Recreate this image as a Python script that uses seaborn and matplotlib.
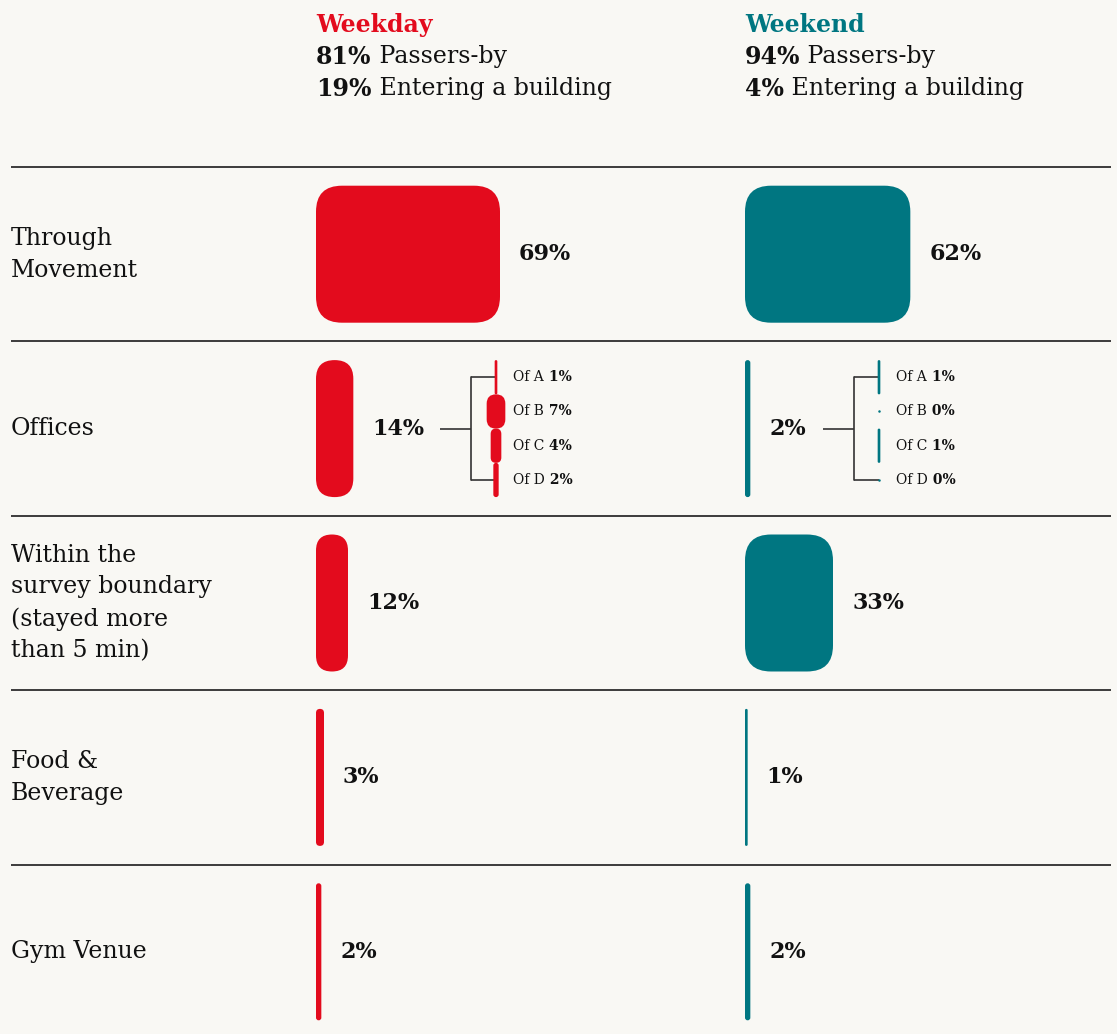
import matplotlib
matplotlib.use("Agg")
import matplotlib.pyplot as plt
from matplotlib.patches import FancyBboxPatch
import pandas as pd
import seaborn as sns

# ---------------- data ----------------
categories = ["Through Movement", "Offices",
              "Within the survey boundary (stayed more than 5 min)",
              "Food & Beverage", "Gym Venue"]
category_lines = [["Through", "Movement"], ["Offices"],
                  ["Within the", "survey boundary", "(stayed more", "than 5 min)"],
                  ["Food &", "Beverage"], ["Gym Venue"]]
periods = ["Weekday", "Weekend"]
weekday_pct = [69, 14, 12, 3, 2]
weekend_pct = [62, 2, 33, 1, 2]
office_parts = ["A", "B", "C", "D"]
weekday_office_pct = [1, 7, 4, 2]
weekend_office_pct = [1, 0, 1, 0]
split_labels = ["Passers-by", "Entering a building"]
weekday_split = [81, 19]
weekend_split = [94, 4]

# ---------------- style ----------------
BG = "#f9f8f4"
INK = "#111111"
RED = "#e30b1d"
TEAL = "#007681"
RULE = "#1c1c1c"
BRACKET = "#333333"
COLORS = [RED, TEAL]

sns.set_theme(style="white", rc={"figure.facecolor": BG, "axes.facecolor": BG})
plt.rcParams["font.family"] = ["DejaVu Serif"]

W, H, DPI = 1117, 1034, 100
ROW_TOP = 167.0
ROW_H = 174.4
PX_PER_PCT = 184 / 69
BAR_FRAC = 137 / ROW_H
RADIUS_PX = 26
COL_LEFT = [316, 745]
COL_WIDTH = [420, 370]
SUB_CENTER_PX = [180, 134]
LABEL_GAP_PX = 19

FS_TEXT = 17
FS_VALUE = 16
FS_SMALL = 10

fig = plt.figure(figsize=(W / DPI, H / DPI), dpi=DPI, facecolor=BG)

# background axes in pixel units for headings, row names and rules
bg = fig.add_axes([0, 0, 1, 1])
bg.set_xlim(0, W)
bg.set_ylim(H, 0)
bg.axis("off")


def mixed_text(ax, x, y, first, second, size, first_bold, color=INK, **kw):
    t = ax.text(x, y, first, fontsize=size, color=color, va="center", ha="left",
                fontweight="bold" if first_bold else "normal", **kw)
    ax.annotate(" " + second, xy=(1, 0.5), xycoords=t, va="center", ha="left",
                fontsize=size, color=color,
                fontweight="normal" if first_bold else "bold")
    return t


# headings
splits = [weekday_split, weekend_split]
for c, name in enumerate(periods):
    x = COL_LEFT[c]
    bg.text(x, 25, name, fontsize=FS_TEXT, fontweight="bold", color=COLORS[c],
            va="center", ha="left")
    for k, lab in enumerate(split_labels):
        mixed_text(bg, x, 57 + 32 * k, f"{splits[c][k]}%", lab, FS_TEXT, True)

# row rules and row names
rule_y = [ROW_TOP + i * ROW_H for i in range(len(categories))]
bg.hlines(rule_y, 11, 1111, color=RULE, lw=1.2)
for i, lines in enumerate(category_lines):
    yc = ROW_TOP + (i + 0.5) * ROW_H
    n = len(lines)
    for j, line in enumerate(lines):
        bg.text(11, yc + (j - (n - 1) / 2) * 32, line, fontsize=FS_TEXT,
                color=INK, va="center", ha="left")


def round_patch(x, y, w, h, color, zorder=3):
    """Rounded rectangle in data units of a column axes."""
    w_px, h_px = w * PX_PER_PCT, h * ROW_H
    r_px = max(min(RADIUS_PX, w_px / 2, h_px / 2), 0)
    return FancyBboxPatch((x, y), w, h,
                          boxstyle=f"round,pad=0,rounding_size={r_px / PX_PER_PCT}",
                          mutation_aspect=PX_PER_PCT / ROW_H,
                          fc=color, ec="none", zorder=zorder)


values = [weekday_pct, weekend_pct]
office_values = [weekday_office_pct, weekend_office_pct]
n_rows = len(categories)
axes_bottom = H - (ROW_TOP + n_rows * ROW_H)

for c in range(2):
    ax = fig.add_axes([COL_LEFT[c] / W, axes_bottom / H,
                       COL_WIDTH[c] / W, n_rows * ROW_H / H])
    ax.patch.set_alpha(0)
    df = pd.DataFrame({"category": categories, "pct": values[c]})
    sns.barplot(data=df, x="pct", y="category", orient="h", color=COLORS[c],
                saturation=1, width=BAR_FRAC, errorbar=None, ax=ax)
    ax.set_xlim(0, COL_WIDTH[c] / PX_PER_PCT)
    ax.set_ylim(n_rows - 0.5, -0.5)
    ax.axis("off")

    # swap the plain bars for rounded ones of the same extent
    for p in list(ax.patches):
        x, y, w, h = p.get_x(), p.get_y(), p.get_width(), p.get_height()
        fc = p.get_facecolor()
        p.remove()
        ax.add_patch(round_patch(x, y, w, h, fc))

    # value labels
    for i, v in enumerate(values[c]):
        ax.text(v + LABEL_GAP_PX / PX_PER_PCT, i, f"{v}%", fontsize=FS_VALUE,
                fontweight="bold", color=INK, va="center", ha="left")

    # office breakdown
    row = categories.index("Offices")
    xc = SUB_CENTER_PX[c] / PX_PER_PCT
    seg_h = BAR_FRAC / 4
    top = row - BAR_FRAC / 2
    centers = [top + (j + 0.5) * seg_h for j in range(len(office_parts))]
    for j, v in enumerate(office_values[c]):
        if v > 0:
            ax.add_patch(round_patch(xc - v / 2, top + j * seg_h, v, seg_h, COLORS[c]))
        else:
            ax.plot([xc], [centers[j]], marker="o", ms=1.8, color=COLORS[c],
                    mec="none", zorder=3)
        mixed_text(ax, xc + 17 / PX_PER_PCT, centers[j], f"Of {office_parts[j]}",
                   f"{v}%", FS_SMALL, False)
    x_vert = xc - 25 / PX_PER_PCT
    x_start = xc - 56 / PX_PER_PCT
    ax.plot([x_start, x_vert], [row, row], color=BRACKET, lw=1.2, zorder=1,
            solid_capstyle="butt")
    ax.plot([x_vert, x_vert], [centers[0], centers[-1]], color=BRACKET, lw=1.2,
            zorder=1)
    for yy in (centers[0], centers[-1]):
        ax.plot([x_vert, xc], [yy, yy], color=BRACKET, lw=1.2, zorder=1,
                solid_capstyle="butt")

fig.savefig("out.png", dpi=DPI, facecolor=BG)
